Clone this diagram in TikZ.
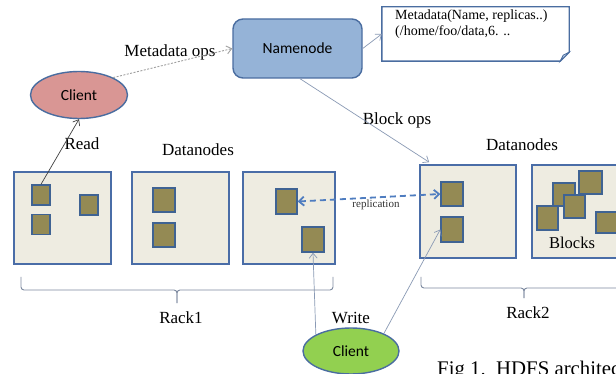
\documentclass[tikz,border=0pt]{standalone}
\usepackage{fontspec}
\setmainfont{Liberation Serif}
\newfontfamily\labelsans{Carlito}
\usetikzlibrary{shapes.geometric,arrows.meta,calc}

\definecolor{boxfill}{HTML}{EEECE1}
\definecolor{boxline}{HTML}{4A6DA7}
\definecolor{blockfill}{HTML}{948A54}
\definecolor{blockline}{HTML}{3F6393}
\definecolor{namefill}{HTML}{95B3D7}
\definecolor{nameline}{HTML}{4A6DA0}
\definecolor{readfill}{HTML}{D99694}
\definecolor{writefill}{HTML}{92D050}
\definecolor{linkgray}{HTML}{8A9AB5}
\definecolor{bracegray}{HTML}{7D8AA0}
\definecolor{dotgray}{HTML}{A0A0A0}
\definecolor{repblue}{HTML}{4F7DC0}

\tikzset{
  rackbox/.style={draw=boxline, fill=boxfill, line width=1.6pt, inner sep=0pt},
  block/.style={draw=blockline, fill=blockfill, line width=1.4pt, inner sep=0pt,
                minimum width=21pt, minimum height=24pt},
  smallblock/.style={block, minimum width=18pt, minimum height=20pt},
  client/.style={ellipse, draw=nameline, line width=1.4pt, inner sep=0pt,
                 minimum width=97pt, minimum height=47pt,
                 font=\labelsans\fontsize{15.5}{18}\selectfont},
  lbl/.style={inner sep=0pt, font=\fontsize{17}{20}\selectfont},
  tip/.style={-{Straight Barb[length=5pt,width=8pt]}},
  link/.style={draw=linkgray, line width=0.7pt, tip},
  rackbrace/.style={draw=bracegray, line width=0.9pt, rounded corners=3pt},
}

\begin{document}
\begin{tikzpicture}[x=1pt, y=-1pt]
\clip (0,0) rectangle (616,374);
\fill[white] (0,0) rectangle (616,374);

% name node and its metadata note
\node[draw=nameline, fill=namefill, line width=1.4pt, rounded corners=10pt,
      minimum width=129pt, minimum height=59pt, inner sep=0pt,
      font=\labelsans\fontsize{15.5}{18}\selectfont] (name) at (297.5,48.5) {Namenode};
\node[minimum width=187pt, minimum height=54pt, inner sep=0pt] (meta) at (475.5,34) {};
\draw[draw=nameline, fill=white, line width=1.4pt]
  (meta.north west) -- (meta.north east) -- ([yshift=9pt]meta.south east)
  -- ([xshift=-9pt]meta.south east) -- (meta.south west) -- cycle;
\draw[draw=nameline, fill=namefill!60, line width=0.8pt]
  ([yshift=9pt]meta.south east) -- ([xshift=-9pt]meta.south east)
  -- ([xshift=-6pt,yshift=6pt]meta.south east) -- cycle;
\node[anchor=base west, inner sep=0pt, align=left,
      font=\fontsize{14}{16.5}\selectfont] (metatext) at (395,36)
  {Metadata(Name, replicas..)\\(/home/foo/data,6. ..};

% clients
\node[client, fill=readfill] (client1) at (79,95) {Client};
\node[client, fill=writefill, minimum width=96pt, minimum height=46pt] (client2) at (351,351) {Client};

% rack 1 datanodes
\node[rackbox, minimum width=97pt, minimum height=92pt] (box1) at (62.5,218) {};
\node[rackbox, minimum width=97pt, minimum height=92pt] (box2) at (180.5,218) {};
\node[rackbox, minimum width=92pt, minimum height=92pt] (box3) at (289,218) {};
% rack 2 datanodes
\node[rackbox, minimum width=96pt, minimum height=93pt] (box4) at (468,211.5) {};
\node[rackbox, minimum width=96pt, minimum height=93pt] (box5) at (580,211.5) {};

% blocks
\node[smallblock] (b1) at (41,195) {};
\node[smallblock] (b2) at (41,224.5) {};
\node[smallblock] (b3) at (89,205) {};
\node[block, minimum width=22pt] (b4) at (164,200) {};
\node[block, minimum width=22pt] (b5) at (164,235) {};
\node[block, minimum height=25pt] (b6) at (286.5,201.5) {};
\node[block, minimum width=22pt, minimum height=25pt] (b7) at (313,239.5) {};
\node[block, minimum width=22pt] (b8) at (452,194) {};
\node[block, minimum width=22pt, minimum height=25pt] (b9) at (452,229.5) {};
\node[block, minimum width=22pt, minimum height=23pt] (bb) at (564,194.5) {};
\node[block, minimum width=23pt, minimum height=23pt] (bc) at (590.5,182.5) {};
\node[block] (ba) at (547.5,218) {};
\node[block, minimum height=23pt] (bd) at (574.5,206.5) {};
\node[block, minimum width=22pt, minimum height=21pt] (be) at (607,222.5) {};
\node[lbl, font=\fontsize{16.5}{19}\selectfont] (blocks) at (572,243) {Blocks};

% labels
\node[lbl] (mops) at (170,52) {Metadata ops};
\node[lbl] (read) at (82,144) {Read};
\node[lbl] (dn1) at (198,150) {Datanodes};
\node[lbl] (bops) at (397,120) {Block ops};
\node[lbl] (dn2) at (522,145) {Datanodes};
\node[lbl] (write) at (351,318) {Write};
\node[lbl] (rack1) at (181,318) {Rack1};
\node[lbl] (rack2) at (528,313) {Rack2};

% connectors
\draw[draw=dotgray, line width=0.9pt, dash pattern=on 2pt off 1.5pt, tip] (client1.27) -- (name.west);
\draw[link] (name.east) -- (meta.west);
\draw[draw=black!75, line width=0.7pt, tip] (b1.north) -- (client1.south);
\draw[link] ([xshift=2.5pt]name.south) -- ($(box4.north west)+(10,-2)$);
\draw[draw=repblue, line width=1.8pt, dash pattern=on 6pt off 4pt,
      {Straight Barb[length=5pt,width=9pt]}-{Straight Barb[length=5pt,width=9pt]}]
  (b6.east) -- (b8.west);
\node[inner sep=0pt, font=\fontsize{11}{13}\selectfont, text=black!80] (rep) at (376,205) {replication};
\draw[link] (client2.155) -- (b7.south);
\draw[link] (client2.28) -- (b9.west);

% rack braces
\draw[rackbrace] (21,277) -- (21,290) -- (177,290) -- (177,303);
\draw[rackbrace] (177,303) -- (177,290) -- (333,290) -- (333,277);
\draw[rackbrace] (421,277) -- (421,288) -- (524,288) -- (524,298);
\draw[rackbrace] (524,298) -- (524,288) -- (628,288) -- (628,277);

% caption
\node[anchor=base west, inner sep=0pt, font=\fontsize{20.8}{24}\selectfont] (cap) at (437,375)
  {Fig 1.\ \ HDFS architecture};
\end{tikzpicture}
\end{document}
